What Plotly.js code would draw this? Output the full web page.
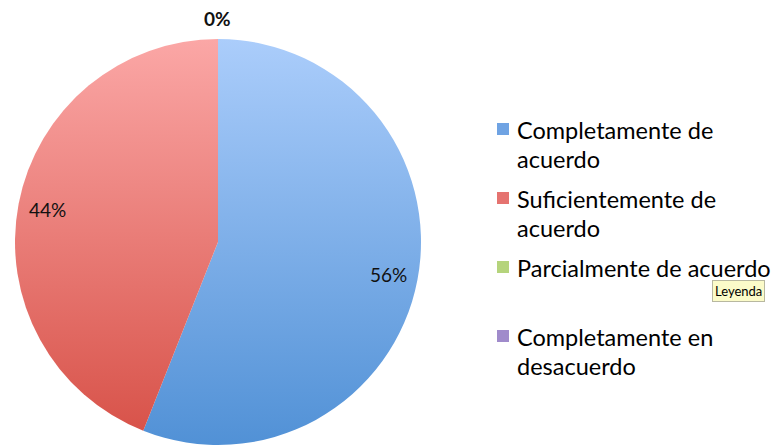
<!DOCTYPE html>
<html>
<head>
<meta charset="utf-8">
<script src="https://cdn.plot.ly/plotly-3.0.1.min.js"></script>
<style>
html,body{margin:0;padding:0;background:#fff;}
#chart{width:773px;height:448px;}
</style>
</head>
<body>
<div id="chart"></div>
<script>
const categories = ["Completamente de acuerdo", "Suficientemente de acuerdo", "Parcialmente de acuerdo", "Completamente en desacuerdo"];
const legendLabels = [["Completamente de", "acuerdo"], ["Suficientemente de", "acuerdo"], ["Parcialmente de acuerdo"], ["Completamente en", "desacuerdo"]];
const values = [56, 44, 0, 0];
const percentLabels = ["56%", "44%", "0%", "0%"];
const colors = ["#6fa3e3", "#e57370", "#b5d47c", "#a08bcb"];
const gradTop = ["#abcdfb", "#fba7a6", "#c3d69b", "#b3a2c7"];
const gradBottom = ["#5191d6", "#d8534a", "#77933c", "#604a7b"];

const W = 773, H = 448;
const cx = 218, cy = 242, R = 203;
const FONT = "Lato, 'Open Sans', sans-serif";

const total = values.reduce((a, b) => a + b, 0);
const annotations = [];
let cum = 0;
let zeroShown = false;
values.forEach((v, i) => {
  const mid = (cum + v / 2) / total * 2 * Math.PI;
  cum += v;
  let r = 0.855 * R, bold = false;
  if (v === 0) {
    if (zeroShown) return;
    zeroShown = true;
    r = 1.1 * R; bold = true;
  }
  const px = cx + r * Math.sin(mid);
  const py = cy - r * Math.cos(mid);
  annotations.push({
    x: px / W, y: 1 - py / H, xref: "paper", yref: "paper",
    text: bold ? "<b>" + percentLabels[i] + "</b>" : percentLabels[i],
    showarrow: false, xanchor: "center", yanchor: "middle",
    font: {family: FONT, size: 19, color: "#111"}
  });
});

// custom legend
const shapes = [];
const legX = 497, legTextX = 515, legTop = 130, legStep = 69, lineH = 29;
legendLabels.forEach((lines, i) => {
  const y0 = legTop + i * legStep;
  shapes.push({
    type: "rect", xref: "paper", yref: "paper",
    x0: legX / W, x1: (legX + 12) / W,
    y0: 1 - (y0 - 7) / H, y1: 1 - (y0 + 5) / H,
    fillcolor: colors[i], line: {width: 0}
  });
  lines.forEach((t, k) => {
    annotations.push({
      x: legTextX / W, y: 1 - (y0 + k * lineH) / H, xref: "paper", yref: "paper",
      text: t, showarrow: false, xanchor: "left", yanchor: "middle",
      font: {family: FONT, size: 23.5, color: "#000"}
    });
  });
});

// tooltip "Leyenda"
annotations.push({
  x: 712 / W, y: 1 - 291 / H, xref: "paper", yref: "paper",
  text: "Leyenda", showarrow: false, xanchor: "left", yanchor: "middle",
  font: {family: FONT, size: 13, color: "#000"},
  bgcolor: "#fbfbc9", bordercolor: "#b8b8a0", borderwidth: 1, borderpad: 2
});

const data = [{
  type: "pie",
  labels: categories,
  values: values,
  sort: false,
  direction: "clockwise",
  rotation: 0,
  marker: {colors: colors, line: {width: 0}},
  textinfo: "none",
  hoverinfo: "label+percent",
  showlegend: false,
  domain: {x: [(cx - R) / W, (cx + R) / W], y: [1 - (cy + R) / H, 1 - (cy - R) / H]}
}];

const layout = {
  width: W, height: H,
  margin: {l: 0, r: 0, t: 0, b: 0},
  paper_bgcolor: "#fff",
  showlegend: false,
  annotations: annotations,
  shapes: shapes
};

Plotly.newPlot("chart", data, layout, {displayModeBar: false, staticPlot: true}).then(gd => {
  const svg = gd.querySelector("svg.main-svg");
  const ns = "http://www.w3.org/2000/svg";
  let defs = svg.querySelector("defs");
  if (!defs) { defs = document.createElementNS(ns, "defs"); svg.insertBefore(defs, svg.firstChild); }
  colors.forEach((c, i) => {
    const g = document.createElementNS(ns, "linearGradient");
    g.setAttribute("id", "pieGrad" + i);
    g.setAttribute("x1", "0"); g.setAttribute("y1", "0");
    g.setAttribute("x2", "0"); g.setAttribute("y2", "1");
    [[0, gradTop[i]], [1, gradBottom[i]]].forEach(([o, col]) => {
      const s = document.createElementNS(ns, "stop");
      s.setAttribute("offset", o);
      s.setAttribute("stop-color", col);
      g.appendChild(s);
    });
    defs.appendChild(g);
  });
  gd.querySelectorAll("g.slice").forEach(sl => {
    const d = sl.__data__;
    const idx = d && d.i !== undefined ? d.i : (d && d.pts ? d.pts[0] : 0);
    const p = sl.querySelector("path.surface");
    if (p) p.style.fill = "url(#pieGrad" + idx + ")";
  });
});
</script>
</body>
</html>
